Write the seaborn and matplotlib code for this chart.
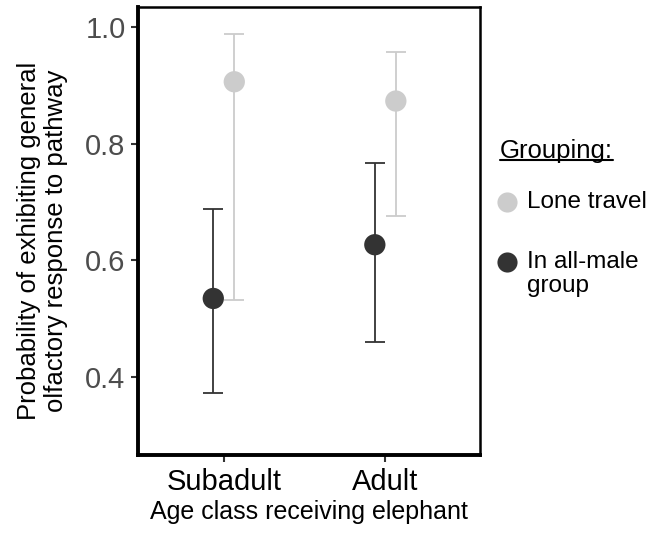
import pandas as pd
import seaborn as sns
import matplotlib.pyplot as plt
from matplotlib.lines import Line2D

sns.set_theme(style='ticks')
plt.rcParams['font.family'] = ['Liberation Sans', 'DejaVu Sans']
plt.rcParams['text.color'] = 'black'
plt.rcParams['axes.labelcolor'] = 'black'

# values
age_classes = ['Subadult', 'Adult']
groupings = ['In all-male group', 'Lone travel']
prob_male_group = [0.535, 0.627]
lower_male_group = [0.374, 0.460]
upper_male_group = [0.689, 0.767]
prob_lone = [0.906, 0.873]
lower_lone = [0.533, 0.677]
upper_lone = [0.988, 0.957]
y_ticks = [0.4, 0.6, 0.8, 1.0]

colors = {'In all-male group': '#333333', 'Lone travel': '#CCCCCC'}
dodge = {'In all-male group': -0.065, 'Lone travel': 0.065}

rows = []
for i, age in enumerate(age_classes):
    rows.append([age, i, 'In all-male group', prob_male_group[i], lower_male_group[i], upper_male_group[i]])
    rows.append([age, i, 'Lone travel', prob_lone[i], lower_lone[i], upper_lone[i]])
df = pd.DataFrame(rows, columns=['age', 'idx', 'grouping', 'prob', 'lower', 'upper'])
df['xpos'] = df['idx'] + df['grouping'].map(dodge)

fig = plt.figure(figsize=(6.49, 5.37), dpi=100)
ax = fig.add_axes([138 / 649, 82 / 537, 342 / 649, 448 / 537])

# light group drawn first so dark sits on top
for g in ['Lone travel', 'In all-male group']:
    sub = df[df['grouping'] == g]
    ax.errorbar(sub['xpos'], sub['prob'],
                yerr=[sub['prob'] - sub['lower'], sub['upper'] - sub['prob']],
                fmt='none', ecolor=colors[g], elinewidth=1.3,
                capsize=7.5, capthick=1.3, zorder=2)

sns.scatterplot(data=df, x='xpos', y='prob', hue='grouping',
                hue_order=['Lone travel', 'In all-male group'],
                palette=colors, s=235, linewidth=0, legend=False,
                zorder=3, ax=ax)

ax.set_xlim(-0.531, 1.586)
ax.set_ylim(0.267, 1.034)
ax.set_xticks(range(len(age_classes)))
ax.set_xticklabels(age_classes)
ax.set_yticks(y_ticks)
ax.set_yticklabels([f'{t:.1f}' for t in y_ticks])

ax.tick_params(axis='x', labelsize=21, labelcolor='black', length=5,
               width=1.5, color='#333333', pad=4)
ax.tick_params(axis='y', labelsize=21, labelcolor='#4D4D4D', length=5,
               width=1.5, color='#333333', pad=4)

for side in ['left', 'bottom']:
    ax.spines[side].set_linewidth(2.8)
    ax.spines[side].set_color('black')
for side in ['top', 'right']:
    ax.spines[side].set_visible(True)
    ax.spines[side].set_linewidth(1.8)
    ax.spines[side].set_color('black')

ax.set_xlabel('Age class receiving elephant', fontsize=18, labelpad=3)
ax.set_ylabel('Probability of exhibiting general\nolfactory response to pathway',
              fontsize=18.5, linespacing=1.15, labelpad=10)
ax.yaxis.set_label_coords(-0.205, 0.478)

# legend drawn by hand to get the underlined title and wrapped label
title = fig.text(500 / 649, 1 - 158 / 537, 'Grouping:', fontsize=18.5,
                 ha='left', va='baseline')
for lab, g, ypix in [('Lone travel', 'Lone travel', 202),
                     ('In all-male\ngroup', 'In all-male group', 262)]:
    fig.add_artist(Line2D([507 / 649], [1 - ypix / 537], marker='o', markersize=14.5,
                          markerfacecolor=colors[g], markeredgewidth=0,
                          linestyle='none', transform=fig.transFigure))
    fig.text(527 / 649, 1 - (ypix - 11) / 537, lab, fontsize=17.5, ha='left',
             va='top', linespacing=1.1)

fig.canvas.draw()
bb = title.get_window_extent().transformed(fig.transFigure.inverted())
fig.add_artist(Line2D([bb.x0, bb.x1], [1 - 160 / 537, 1 - 160 / 537],
                      color='black', linewidth=1.5, transform=fig.transFigure))

fig.savefig('out.png', dpi=100)
